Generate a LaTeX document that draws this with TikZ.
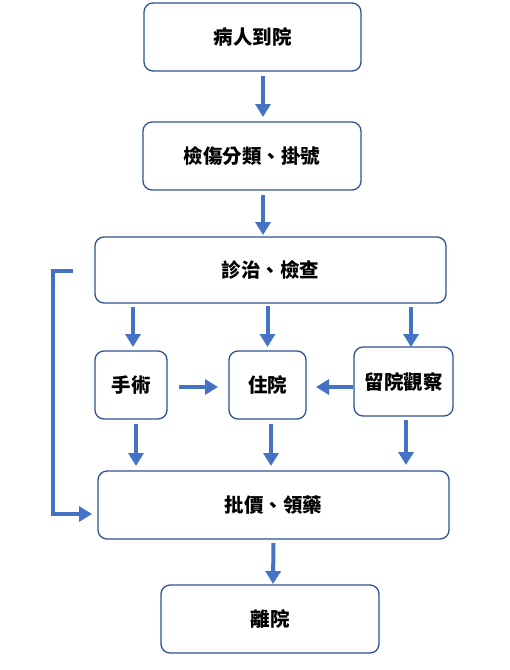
\documentclass[tikz,border=0pt]{standalone}
\usepackage{fontspec}
\newfontfamily\cjk{Noto Sans CJK TC}
\usetikzlibrary{arrows.meta,calc}
\definecolor{arr}{HTML}{4472C4}
\definecolor{bd}{HTML}{2F528F}
\begin{document}
\begin{tikzpicture}[x=1pt,y=-1pt,
  box/.style={draw=bd, line width=1.3pt, rounded corners=9pt, inner sep=0pt, outer sep=0pt,
    font=\cjk\bfseries\fontsize{19.5}{22}\selectfont},
  flow/.style={draw=arr, line width=4pt, -{Triangle[length=13pt,width=15pt]}},
  loopline/.style={draw=arr, line width=4pt, -{Triangle[length=13pt,width=15pt]}}]
\useasboundingbox[fill=white] (0,0) rectangle (510,670);
\node[box, minimum width=217pt, minimum height=68pt] (a) at (252.5,37) {病人到院};
\node[box, minimum width=218pt, minimum height=68pt] (b) at (252,156) {檢傷分類、掛號};
\node[box, minimum width=351pt, minimum height=66pt] (c) at (270.5,270) {診治、檢查};
\node[box, minimum width=72pt, minimum height=68pt] (d) at (131,385) {手術};
\node[box, minimum width=77pt, minimum height=68pt] (e) at (267.5,385) {住院};
\node[box, minimum width=99pt, minimum height=69pt] (f) at (403.5,381.5) {留院觀察};
\node[box, minimum width=351pt, minimum height=68pt] (g) at (273.5,505) {批價、領藥};
\node[box, minimum width=218pt, minimum height=68pt] (h) at (270,619) {離院};

\draw[flow] ($(a.south)+(10.5,5)$) -- ($(b.north)+(11,-5)$);
\draw[flow] ($(b.south)+(11,5)$) -- ($(c.north)+(-7.5,-2)$);
\draw[flow] ($(c.south -| d.north)+(2,4)$) -- ($(d.north)+(2,-4)$);
\draw[flow] ($(c.south -| e.north)+(0,3)$) -- ($(e.north)+(0,-4)$);
\draw[flow] ($(c.south -| f.north)+(7.5,4)$) -- ($(f.north)+(7.5,0)$);
\draw[flow] ($(d.east)+(12,2)$) -- ($(e.west)+(-11,2)$);
\draw[flow] ($(f.west)+(-1,5.5)$) -- ($(e.east)+(10,2)$);
\draw[flow] ($(d.south)+(5,5)$) -- ($(g.north -| d.south)+(5,-5)$);
\draw[flow] ($(e.south)+(3.5,5)$) -- ($(g.north -| e.south)+(3.5,-5)$);
\draw[flow] ($(f.south)+(2.5,4)$) -- ($(g.north -| f.south)+(2.5,-6)$);
\draw[flow] ($(g.south)+(0,4)$) -- ($(h.north)+(3,-1)$);
\draw[loopline] ($(c.west)+(-22,1)$) -- ++(-20,0) |- ($(g.west)+(-6,9)$);
\end{tikzpicture}
\end{document}
